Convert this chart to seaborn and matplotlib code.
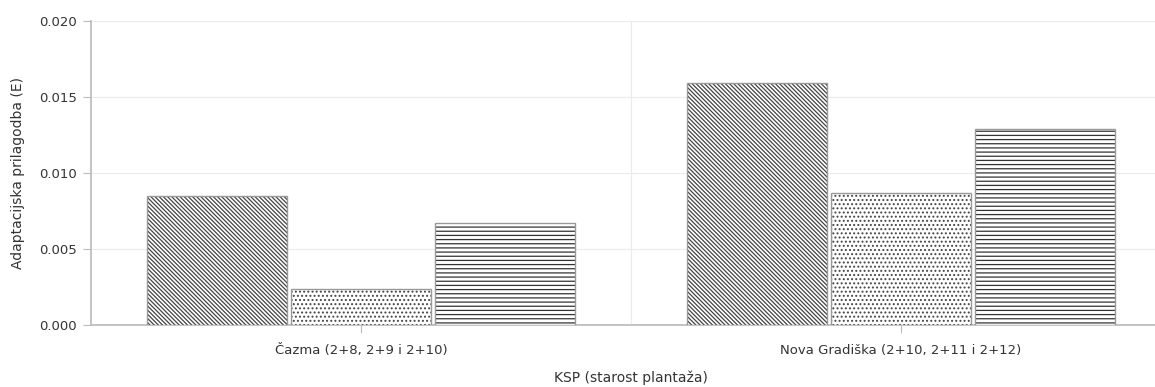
import matplotlib
matplotlib.use("Agg")
import matplotlib.pyplot as plt
from matplotlib.colors import to_rgba
import seaborn as sns
import pandas as pd

categories = ["Čazma (2+8, 2+9 i 2+10)", "Nova Gradiška (2+10, 2+11 i 2+12)"]
series_names = ["Klon 1", "Klon 2", "Klon 3"]
series_1 = [0.0085, 0.0159]
series_2 = [0.0024, 0.0087]
series_3 = [0.0067, 0.0129]
y_ticks = [0.000, 0.005, 0.010, 0.015, 0.020]

rows = []
for name, vals in zip(series_names, [series_1, series_2, series_3]):
    for c, v in zip(categories, vals):
        rows.append({"KSP": c, "serija": name, "E": v})
df = pd.DataFrame(rows)

sns.set_theme(style="white")
plt.rcParams["font.family"] = ["DejaVu Sans"]
plt.rcParams["hatch.linewidth"] = 0.9

fig = plt.figure(figsize=(11.55, 3.87), dpi=100)
ax = fig.add_axes([91/1155, 1-325/387, (1171-91)/1155, (325-21)/387])

sns.barplot(data=df, x="KSP", y="E", hue="serija", hue_order=series_names,
            order=categories, palette=["white"]*3, edgecolor="#999999",
            linewidth=1.0, width=0.8, gap=0.025, legend=False, ax=ax, zorder=3)

hatches = ["\\" * 8, "....", "----"]
hatch_colors = ["#444444", "#444444", "#333333"]
for container, h, hc in zip(ax.containers, hatches, hatch_colors):
    for bar in container:
        bar.set_hatch(h)
        bar._hatch_color = to_rgba(hc)

ax.set_ylim(0, 0.020)
ax.set_xlim(-0.5, 1.5)
ax.set_yticks(y_ticks)
ax.set_yticklabels([f"{t:.3f}" for t in y_ticks])
for t in y_ticks:
    ax.axhline(t, color="#ebebeb", lw=0.8, zorder=0)
ax.axvline(0.5, color="#ebebeb", lw=0.8, zorder=0)

for s in ["top", "right"]:
    ax.spines[s].set_visible(False)
ax.spines["left"].set_color("#bbbbbb")
ax.spines["bottom"].set_color("#bbbbbb")
ax.tick_params(axis="both", colors="#bbbbbb", labelcolor="#333333",
               labelsize=9.5, length=6, width=0.8, direction="out")
ax.tick_params(axis="x", length=6, pad=8)
ax.tick_params(axis="y", length=6, pad=4)
ax.xaxis.set_ticks_position("bottom")
ax.yaxis.set_ticks_position("left")

ax.set_ylabel("Adaptacijska prilagodba (E)", fontsize=10, color="#333333", labelpad=10)
ax.set_xlabel("")
fig.text(631/1155, 1-378/387, "KSP (starost plantaža)", ha="center", va="center",
         fontsize=10, color="#333333")

fig.savefig("out.png", dpi=100)
